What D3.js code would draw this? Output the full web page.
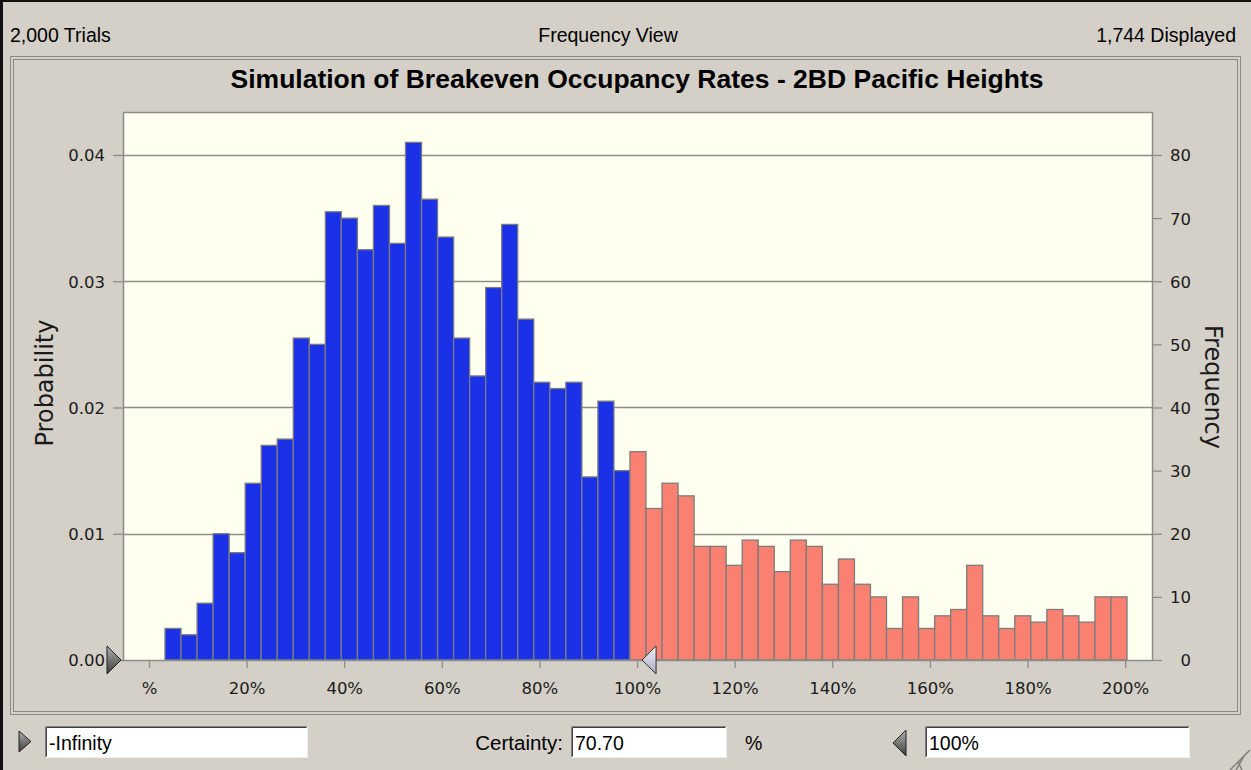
<!DOCTYPE html>
<html>
<head>
<meta charset="utf-8">
<script src="https://cdn.jsdelivr.net/npm/d3@7"></script>
<style>
  html, body { margin: 0; padding: 0; background: #d4d0c8; overflow: hidden; }
  svg { display: block; }
</style>
</head>
<body>
<svg id="chart" width="1251" height="770"></svg>
<script>
// ---- data ----
const trials = 2000;
const chartTitle = "Simulation of Breakeven Occupancy Rates - 2BD Pacific Heights";
const viewName = "Frequency View";
const binStart = 3.28;    // lower edge of the first bin (%)
const binWidth = 3.285;   // bin width (%)
const frequencies = [
  5, 4, 9, 20, 17, 28, 34, 35, 51, 50, 71, 70, 65, 72, 66, 82, 73, 67, 51, 45,
  59, 69, 54, 44, 43, 44, 29, 41, 30, 33, 24, 28, 26, 18, 18, 15, 19, 18, 14, 19,
  18, 12, 16, 12, 10, 5, 10, 5, 7, 8, 15, 7, 5, 7, 6, 8, 7, 6, 10, 10
];
const xTicks = [0, 20, 40, 60, 80, 100, 120, 140, 160, 180, 200];
const xTickLabels = ["%", "20%", "40%", "60%", "80%", "100%", "120%", "140%", "160%", "180%", "200%"];
const probTicks = [0, 0.01, 0.02, 0.03, 0.04];
const freqTicks = [0, 10, 20, 30, 40, 50, 60, 70, 80];
const lowerBoundText = "-Infinity";
const upperBound = 100;          // %
const upperBoundText = "100%";
const certaintyText = "70.70";

// ---- layout ----
const plot = { left: 124, right: 1152, top: 113, bottom: 660 };
const freqMax = 86.65;

const svg = d3.select("#chart");
const defs = svg.append("defs");

function grad(id, c1, c2) {
  const g = defs.append("linearGradient").attr("id", id)
    .attr("x1", 0).attr("y1", 0).attr("x2", 0).attr("y2", 1);
  g.append("stop").attr("offset", "0%").attr("stop-color", c1);
  g.append("stop").attr("offset", "100%").attr("stop-color", c2);
}
grad("darkGrip", "#b0b0b0", "#3c3c3c");
grad("lightGrip", "#f4f4fa", "#a8a8c4");

const x = d3.scaleLinear().domain([-5.12, 205.5]).range([plot.left, plot.right]);
const yFreq = d3.scaleLinear().domain([0, freqMax]).range([plot.bottom, plot.top]);
const yProb = d3.scaleLinear().domain([0, freqMax / trials]).range([plot.bottom, plot.top]);

// window edges
svg.append("rect").attr("x", 0).attr("y", 0).attr("width", 1251).attr("height", 2).attr("fill", "#111");
svg.append("rect").attr("x", 0).attr("y", 0).attr("width", 3).attr("height", 770).attr("fill", "#111");

// header line
const uiFont = "'Liberation Sans', Arial, sans-serif";
const header = svg.append("g").attr("font-family", uiFont).attr("font-size", 19.5).attr("fill", "#000");
header.append("text").attr("x", 10).attr("y", 42).text(d3.format(",")(trials) + " Trials");
header.append("text").attr("x", 608).attr("y", 42).attr("text-anchor", "middle").text(viewName);
header.append("text").attr("x", 1236).attr("y", 42).attr("text-anchor", "end")
  .text(d3.format(",")(d3.sum(frequencies)) + " Displayed");

// chart frame
svg.append("rect").attr("x", 10.5).attr("y", 56.5).attr("width", 1230).attr("height", 658)
  .attr("fill", "none").attr("stroke", "#8a8a8a");
svg.append("rect").attr("x", 13.5).attr("y", 59.5).attr("width", 1224).attr("height", 652)
  .attr("fill", "none").attr("stroke", "#404040").attr("stroke-dasharray", "1,1");

// title
svg.append("text").attr("x", 637).attr("y", 88).attr("text-anchor", "middle")
  .attr("font-family", uiFont).attr("font-weight", "bold").attr("font-size", 26.5)
  .attr("fill", "#000").text(chartTitle);

// plot background
svg.append("rect").attr("x", plot.left).attr("y", plot.top)
  .attr("width", plot.right - plot.left).attr("height", plot.bottom - plot.top)
  .attr("fill", "#fffff0");

// gridlines
svg.append("g").selectAll("line").data(probTicks.filter(d => d > 0)).join("line")
  .attr("x1", plot.left).attr("x2", plot.right)
  .attr("y1", d => Math.round(yProb(d)) + 0.5).attr("y2", d => Math.round(yProb(d)) + 0.5)
  .attr("stroke", "#8c8c8c").attr("stroke-width", 1.3);

// histogram bars
const bins = frequencies.map((f, i) => ({ lo: binStart + i * binWidth, hi: binStart + (i + 1) * binWidth, f }));
svg.append("g").selectAll("rect").data(bins).join("rect")
  .attr("x", d => x(d.lo))
  .attr("width", d => x(d.hi) - x(d.lo))
  .attr("y", d => yFreq(d.f))
  .attr("height", d => plot.bottom - yFreq(d.f))
  .attr("fill", d => (d.lo + d.hi) / 2 < upperBound ? "#1b31e8" : "#fa8072")
  .attr("stroke", "#7c7c7c").attr("stroke-width", 1.3);

// plot border
svg.append("rect").attr("x", plot.left - 0.5).attr("y", plot.top - 0.5)
  .attr("width", plot.right - plot.left + 1).attr("height", plot.bottom - plot.top + 1)
  .attr("fill", "none").attr("stroke", "#8c8c8c").attr("stroke-width", 1.5);

// axes
const tickFont = "'DejaVu Sans', sans-serif";
function styleAxis(g) {
  g.select(".domain").remove();
  g.selectAll(".tick line").attr("stroke", "#8c8c8c").attr("stroke-width", 1.3);
  g.selectAll(".tick text").attr("font-family", tickFont).attr("font-size", 16.5).attr("fill", "#1a1a1a");
}

svg.append("g").attr("transform", `translate(${plot.left},0)`)
  .call(d3.axisLeft(yProb).tickValues(probTicks).tickFormat(d3.format(".2f")).tickSize(11).tickPadding(8))
  .call(styleAxis)
  .call(g => g.selectAll(".tick text").attr("dy", "0.36em"));

svg.append("g").attr("transform", `translate(${plot.right},0)`)
  .call(d3.axisRight(yFreq).tickValues(freqTicks).tickSize(10))
  .call(styleAxis)
  .call(g => g.selectAll(".tick text").attr("x", 39).attr("text-anchor", "end").attr("dy", "0.36em"));

svg.append("g").attr("transform", `translate(0,${plot.bottom})`)
  .call(d3.axisBottom(x).tickValues(xTicks).tickFormat((d, i) => xTickLabels[i]).tickSize(8))
  .call(styleAxis)
  .call(g => g.selectAll(".tick text").attr("y", 34).attr("dy", 0));

// axis titles
svg.append("text").attr("transform", "translate(53,383) rotate(-90)")
  .attr("text-anchor", "middle").attr("font-family", tickFont).attr("font-size", 24)
  .attr("fill", "#1a1a1a").text("Probability");
svg.append("text").attr("transform", "translate(1205,387) rotate(90)")
  .attr("text-anchor", "middle").attr("font-family", tickFont).attr("font-size", 24)
  .attr("fill", "#1a1a1a").text("Frequency");

// range grabbers on the x axis
const gy = plot.bottom;
svg.append("path")
  .attr("d", `M${plot.left - 3},${gy} L${plot.left - 17},${gy - 14} L${plot.left - 17},${gy + 14} Z`)
  .attr("fill", "url(#darkGrip)").attr("stroke", "#222").attr("stroke-width", 1);
const gx = x(upperBound) + 5;
svg.append("path")
  .attr("d", `M${gx},${gy} L${gx + 14},${gy - 14} L${gx + 14},${gy + 14} Z`)
  .attr("fill", "url(#lightGrip)").attr("stroke", "#333").attr("stroke-width", 1);

// bottom controls
function textBox(x0, w, label) {
  const g = svg.append("g");
  g.append("rect").attr("x", x0).attr("y", 726).attr("width", w).attr("height", 32).attr("fill", "#fff");
  g.append("path").attr("d", `M${x0 + 0.5},${757.5} V${726.5} H${x0 + w - 0.5}`)
    .attr("fill", "none").attr("stroke", "#808080").attr("stroke-width", 1);
  g.append("path").attr("d", `M${x0 + 1.5},${756.5} V${727.5} H${x0 + w - 1.5}`)
    .attr("fill", "none").attr("stroke", "#404040").attr("stroke-width", 1);
  g.append("path").attr("d", `M${x0 + 0.5},${757.5} H${x0 + w - 0.5} V${726.5}`)
    .attr("fill", "none").attr("stroke", "#f0f0f0").attr("stroke-width", 1);
  g.append("text").attr("x", x0 + 4).attr("y", 750).attr("font-family", uiFont)
    .attr("font-size", 19.5).attr("fill", "#000").text(label);
}
textBox(45, 263, lowerBoundText);
textBox(571, 156, certaintyText);
textBox(925, 265, upperBoundText);

svg.append("text").attr("x", 563).attr("y", 750).attr("text-anchor", "end")
  .attr("font-family", uiFont).attr("font-size", 20.5).attr("fill", "#000").text("Certainty:");
svg.append("text").attr("x", 745).attr("y", 750)
  .attr("font-family", uiFont).attr("font-size", 19.5).attr("fill", "#000").text("%");

svg.append("path").attr("d", "M19,731 L31,741.5 L19,752 Z")
  .attr("fill", "url(#darkGrip)").attr("stroke", "#222");
svg.append("path").attr("d", "M906,730 L893,743 L906,756 Z")
  .attr("fill", "url(#darkGrip)").attr("stroke", "#222");

// resize grip
const grip = svg.append("g");
[0, 6, 12].forEach(o => {
  grip.append("line").attr("x1", 1250 - o).attr("y1", 752 + o - 2).attr("x2", 1232 + o - 2).attr("y2", 770)
    .attr("stroke", "#808080").attr("stroke-width", 1.5);
});
</script>
</body>
</html>
